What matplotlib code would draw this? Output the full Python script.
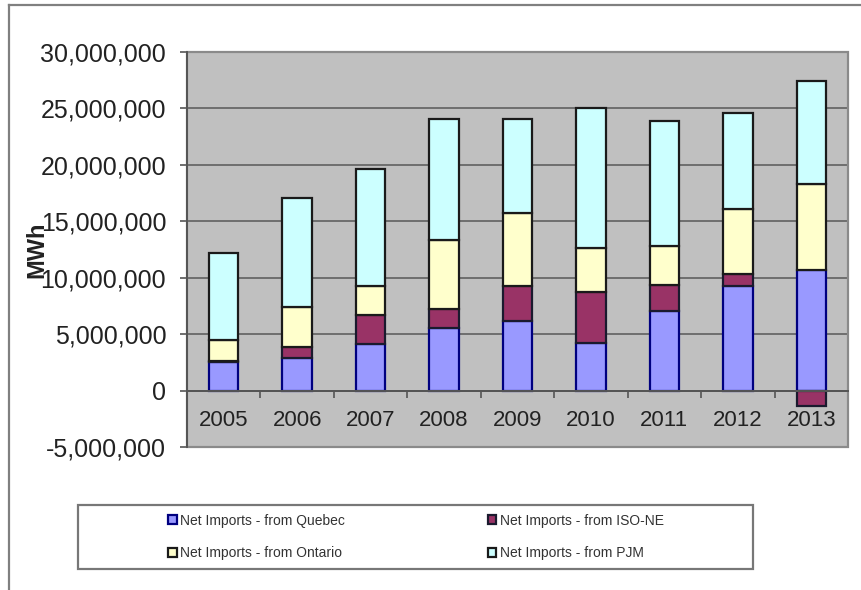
import numpy as np
import matplotlib
matplotlib.use("Agg")
import matplotlib.pyplot as plt
from matplotlib.ticker import FuncFormatter, FixedLocator
from matplotlib.patches import Rectangle
from matplotlib.lines import Line2D

plt.rcParams['font.family'] = ['Liberation Sans', 'DejaVu Sans']

years = ['2005', '2006', '2007', '2008', '2009', '2010', '2011', '2012', '2013']
series_names = ['Net Imports - from Quebec', 'Net Imports - from ISO-NE',
                'Net Imports - from Ontario', 'Net Imports - from PJM']
quebec  = [2500000, 2870000, 4140000, 5560000, 6150000, 4200000, 7040000, 9260000, 10650000]
iso_ne  = [160000, 970000, 2520000, 1640000, 3150000, 4500000, 2340000, 1100000, -1330000]
ontario = [1840000, 3560000, 2640000, 6170000, 6400000, 3960000, 3390000, 5740000, 7650000]
pjm     = [7670000, 9700000, 10300000, 10730000, 8400000, 12340000, 11130000, 8500000, 9100000]
y_ticks = [-5000000, 0, 5000000, 10000000, 15000000, 20000000, 25000000, 30000000]

face_colors = ['#9999FF', '#993366', '#FFFFCC', '#CCFFFF']
edge_colors = ['#000080', '#1a1a2e', '#1a1a1a', '#1a1a1a']

fig = plt.figure(figsize=(8.62, 5.90), dpi=100)
ax = fig.add_axes([187 / 862, 1 - 447 / 590, (848 - 187) / 862, (447 - 52) / 590])
ax.set_facecolor('#C0C0C0')

x = np.arange(len(years))
pos_base = np.zeros(len(years))
neg_base = np.zeros(len(years))
handles = []
for vals, fc, ec, name in zip([quebec, iso_ne, ontario, pjm], face_colors, edge_colors, series_names):
    v = np.array(vals, dtype=float)
    bottoms = np.where(v >= 0, pos_base, neg_base)
    bars = ax.bar(x, v, width=0.4, bottom=bottoms, color=fc, edgecolor=ec,
                  linewidth=1.6, zorder=3, label=name)
    handles.append(bars)
    pos_base = pos_base + np.where(v >= 0, v, 0)
    neg_base = neg_base + np.where(v < 0, v, 0)

ax.set_xlim(-0.5, len(years) - 0.5)
ax.set_ylim(-5000000, 30000000)
ax.yaxis.set_major_locator(FixedLocator(y_ticks))
ax.yaxis.set_major_formatter(FuncFormatter(lambda v, p: f"{int(v):,}"))
ax.grid(axis='y', color='#6e6e6e', linewidth=1.4, zorder=1)
ax.set_axisbelow(True)

# x axis runs along zero; year labels sit under it inside the plot area
ax.spines['bottom'].set_position(('data', 0))
ax.spines['bottom'].set_color('#555555')
ax.spines['bottom'].set_linewidth(1.4)
ax.spines['bottom'].set_zorder(4)
ax.set_xticks(x)
ax.set_xticklabels(years)
ax.set_xticks(np.arange(len(years) + 1) - 0.5, minor=True)
ax.tick_params(axis='x', which='major', length=0, pad=14, labelsize=16, labelcolor='#222222')
ax.tick_params(axis='x', which='minor', length=5, width=1.2, color='#555555', direction='out')
ax.tick_params(axis='y', length=5, width=1.2, color='#555555', pad=10, labelsize=18,
               labelcolor='#222222')

ax.spines['left'].set_color('#555555')
ax.spines['left'].set_linewidth(1.4)
ax.spines['top'].set_visible(False)
ax.spines['right'].set_visible(False)
ax.add_patch(Rectangle((0, 0), 1, 1, transform=ax.transAxes, fill=False,
                       edgecolor='#8a8a8a', linewidth=1.6, zorder=2, clip_on=False))

fig.text(37 / 862, 1 - 250 / 590, 'MWh', rotation=90, ha='center', va='center',
         fontsize=17, fontweight='bold', color='#222222')

# legend box: two rows, Quebec / ISO-NE on top, Ontario / PJM below
fig.patches.append(Rectangle((78 / 862, 1 - 569 / 590), (753 - 78) / 862, (569 - 505) / 590,
                             transform=fig.transFigure, fill=False, edgecolor='#777777',
                             linewidth=1.6))
order = [0, 2, 1, 3]
leg = fig.legend([handles[i] for i in order], [series_names[i] for i in order], ncol=2,
                 loc='center', bbox_to_anchor=(416 / 862, 1 - 537 / 590), frameon=False,
                 fontsize=10, handlelength=0.6, handleheight=0.6, handletextpad=0.25,
                 columnspacing=10.3, labelspacing=1.35, labelcolor='#333333')

# outer chart frame
fig.add_artist(Line2D([9 / 862, 9 / 862], [0, 1 - 5 / 590], transform=fig.transFigure,
                      color='#808080', linewidth=1.6))
fig.add_artist(Line2D([9 / 862, 1], [1 - 5 / 590, 1 - 5 / 590], transform=fig.transFigure,
                      color='#808080', linewidth=1.6))

fig.savefig('out.png', dpi=100)
